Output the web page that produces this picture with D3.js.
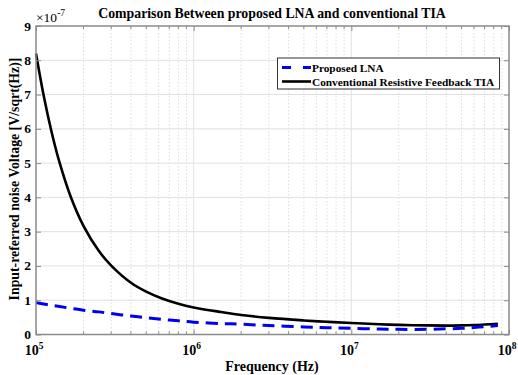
<!DOCTYPE html>
<html>
<head>
<meta charset="utf-8">
<script src="https://cdn.jsdelivr.net/npm/d3@7/dist/d3.min.js"></script>
<style>
  html, body { margin: 0; padding: 0; background: #fff; }
  svg { display: block; }
  text { font-family: "Liberation Serif", "Times New Roman", serif; }
</style>
</head>
<body>
<svg id="chart" width="518" height="375"></svg>
<script>
// Frequencies (Hz) at which both noise curves are sampled
const frequency = [1e5, 1.12e5, 1.26e5, 1.41e5, 1.66e5, 2e5, 2.5e5, 3e5, 4e5, 5e5, 6.3e5, 8e5,
  1e6, 1.5e6, 2e6, 3e6, 5e6, 7e6, 1e7, 1.5e7, 2e7, 3e7, 4e7, 5e7, 6e7, 7e7, 8.5e7];
// Input-referred noise, in units of 1e-7 V/sqrt(Hz)
const proposedLNA = [0.93, 0.89, 0.85, 0.815, 0.765, 0.71, 0.66, 0.61, 0.54, 0.49, 0.44, 0.40,
  0.36, 0.32, 0.30, 0.26, 0.22, 0.20, 0.18, 0.16, 0.15, 0.15, 0.165, 0.18, 0.205, 0.23, 0.26];
const conventionalTIA = [8.2, 6.96, 5.88, 5.02, 4.02, 3.17, 2.44, 2.01, 1.51, 1.25, 1.05, 0.896,
  0.79, 0.655, 0.57, 0.485, 0.41, 0.37, 0.335, 0.30, 0.28, 0.265, 0.26, 0.265, 0.275, 0.29, 0.31];
const seriesNames = ["Proposed LNA", "Conventional Resistive Feedback TIA"];
const xMajorTicks = [1e5, 1e6, 1e7, 1e8];
const yTicks = [0, 1, 2, 3, 4, 5, 6, 7, 8, 9];

const svg = d3.select("#chart");
const plotL = 36, plotR = 509, plotT = 26, plotB = 334.5;

const x = d3.scaleLog().domain([1e5, 1e8]).range([plotL, plotR]);
const y = d3.scaleLinear().domain([0, 9]).range([plotB, plotT]);

// minor decade ticks (2..9 × 10^n)
const xMinor = [];
[1e5, 1e6, 1e7].forEach(d => { for (let k = 2; k <= 9; k++) xMinor.push(d * k); });

svg.append("rect").attr("x", plotL).attr("y", plotT)
  .attr("width", plotR - plotL).attr("height", plotB - plotT).attr("fill", "#fff");

// grid
const grid = svg.append("g");
grid.selectAll(".xminor").data(xMinor).enter().append("line")
  .attr("x1", d => x(d)).attr("x2", d => x(d)).attr("y1", plotT).attr("y2", plotB)
  .attr("stroke", "#d4d4d4").attr("stroke-width", 0.8).attr("stroke-dasharray", "1.5,2");
grid.selectAll(".xmajor").data(xMajorTicks.slice(1, 3)).enter().append("line")
  .attr("x1", d => x(d)).attr("x2", d => x(d)).attr("y1", plotT).attr("y2", plotB)
  .attr("stroke", "#e2e2e2").attr("stroke-width", 1);
grid.selectAll(".ymajor").data(yTicks.slice(1, 9)).enter().append("line")
  .attr("x1", plotL).attr("x2", plotR).attr("y1", d => y(d)).attr("y2", d => y(d))
  .attr("stroke", "#e0e0e0").attr("stroke-width", 1);

// curves
const line = d3.line().x(d => x(d[0])).y(d => y(d[1])).curve(d3.curveCatmullRom.alpha(0.5));
svg.append("path").datum(frequency.map((f, i) => [f, conventionalTIA[i]]))
  .attr("d", line).attr("fill", "none").attr("stroke", "#000").attr("stroke-width", 2.6);
svg.append("path").datum(frequency.map((f, i) => [f, proposedLNA[i]]))
  .attr("d", line).attr("fill", "none").attr("stroke", "#0000f0").attr("stroke-width", 3)
  .attr("stroke-dasharray", "12,7");

// axes (ticks pointing inward, mirrored on top and right)
const axisColor = "#8a8a8a";
const axes = svg.append("g");
const bottomAxis = d3.axisBottom(x).tickValues(xMajorTicks).tickSize(-5).tickFormat("");
const topAxis = d3.axisTop(x).tickValues(xMajorTicks).tickSize(-5).tickFormat("");
const leftAxis = d3.axisLeft(y).tickValues(yTicks).tickSize(-5).tickFormat("");
const rightAxis = d3.axisRight(y).tickValues(yTicks).tickSize(-5).tickFormat("");
const styleAxis = g => {
  g.select(".domain").remove();
  g.selectAll(".tick line").attr("stroke", axisColor).attr("stroke-width", 1);
};
axes.append("g").attr("transform", `translate(0,${plotB})`).call(bottomAxis).call(styleAxis);
axes.append("g").attr("transform", `translate(0,${plotT})`).call(topAxis).call(styleAxis);
axes.append("g").attr("transform", `translate(${plotL},0)`).call(leftAxis).call(styleAxis);
axes.append("g").attr("transform", `translate(${plotR},0)`).call(rightAxis).call(styleAxis);
axes.append("rect").attr("x", plotL).attr("y", plotT).attr("width", plotR - plotL).attr("height", plotB - plotT)
  .attr("fill", "none").attr("stroke", axisColor).attr("stroke-width", 1.5);
// minor ticks
[[plotB, -3], [plotT, 3]].forEach(([yy, dir]) => {
  axes.selectAll(null).data(xMinor).enter().append("line")
    .attr("x1", d => x(d)).attr("x2", d => x(d)).attr("y1", yy).attr("y2", yy + dir)
    .attr("stroke", axisColor).attr("stroke-width", 1);
});

// y tick labels
svg.selectAll(".ylab").data(yTicks).enter().append("text")
  .attr("x", plotL - 5).attr("y", d => y(d) + 4.5).attr("text-anchor", "end")
  .attr("font-size", 13.5).attr("font-weight", "bold").text(d => d);

// x tick labels 10^n
xMajorTicks.forEach(v => {
  const t = svg.append("text").attr("x", x(v) - 2).attr("y", 355).attr("text-anchor", "middle")
    .attr("font-size", 14).attr("font-weight", "bold");
  t.append("tspan").text("10");
  t.append("tspan").attr("dy", -6).attr("font-size", 9.5).text(Math.round(Math.log10(v)));
});

// exponent multiplier
const mult = svg.append("text").attr("x", 36).attr("y", 22).attr("font-size", 13.5);
mult.append("tspan").text("×10");
mult.append("tspan").attr("dy", -6).attr("font-size", 9.5).text("-7");

// title and axis labels
svg.append("text").attr("x", 272).attr("y", 18).attr("text-anchor", "middle")
  .attr("font-size", 13.8).attr("font-weight", "bold")
  .text("Comparison Between proposed LNA and conventional TIA");
svg.append("text").attr("x", 272).attr("y", 371).attr("text-anchor", "middle")
  .attr("font-size", 14).attr("font-weight", "bold").text("Frequency (Hz)");
svg.append("text").attr("transform", "translate(19,179) rotate(-90)").attr("text-anchor", "middle")
  .attr("font-size", 13.8).attr("font-weight", "bold")
  .text("Input-referred noise Voltage [V/sqrt(Hz)]");

// legend
const lg = svg.append("g");
lg.append("rect").attr("x", 277.5).attr("y", 58).attr("width", 222).attr("height", 31)
  .attr("fill", "#fff").attr("stroke", "#333").attr("stroke-width", 1);
const legendRows = [
  { name: seriesNames[0], color: "#0000f0", dash: "9,12", w: 3 },
  { name: seriesNames[1], color: "#000", dash: null, w: 2.6 }
];
legendRows.forEach((r, i) => {
  const cy = 67.5 + i * 14;
  lg.append("line").attr("x1", 282).attr("x2", 311).attr("y1", cy).attr("y2", cy)
    .attr("stroke", r.color).attr("stroke-width", r.w).attr("stroke-dasharray", r.dash);
  lg.append("text").attr("x", 312).attr("y", cy + 4).attr("font-size", 11.3).attr("font-weight", "bold")
    .text(r.name);
});
</script>
</body>
</html>
